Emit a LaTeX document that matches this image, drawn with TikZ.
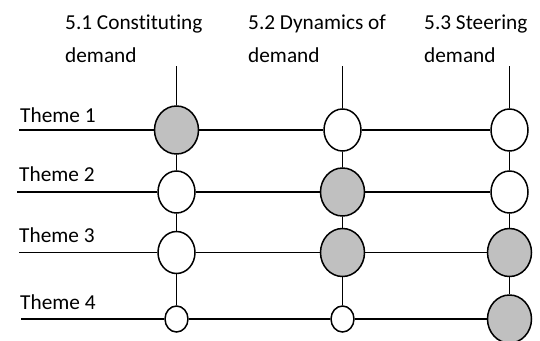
\documentclass[tikz,border=0pt]{standalone}
\usepackage{fontspec}
\setmainfont{Carlito}[Ligatures=NoCommon]
\usetikzlibrary{shapes.geometric}
\definecolor{cellgray}{RGB}{192,192,192}
\begin{document}
\begin{tikzpicture}[x=1pt,y=-1pt,
  link/.style={line width=1.5pt},
  hub/.style={ellipse, draw, line width=1.5pt, inner sep=0pt, fill=white,
              minimum width=37pt, minimum height=42pt},
  hot/.style={hub, fill=cellgray, minimum width=44pt, minimum height=48pt},
  tiny/.style={hub, minimum width=23pt, minimum height=26pt},
  theme/.style={anchor=base west, inner sep=0pt, font=\fontsize{21.3pt}{24pt}\selectfont},
  coltitle/.style={anchor=north west, inner sep=0pt, align=left,
                   font=\fontsize{21.3pt}{33pt}\selectfont}]
\useasboundingbox (0,0) rectangle (540,340);

% column headings
\node[coltitle] (h1) at (65,15)  {5.1 Constituting\\demand};
\node[coltitle] (h2) at (248,15) {5.2 Dynamics of\\demand};
\node[coltitle] (h3) at (424,15) {5.3 Steering\\demand};

% theme labels
\node[theme] (l1) at (20,122) {Theme 1};
\node[theme] (l2) at (19,181) {Theme 2};
\node[theme] (l3) at (19,242) {Theme 3};
\node[theme] (l4) at (20,309) {Theme 4};

% grid crossings
\node[hot]  (n11) at (176.5,130) {};
\node[hub]  (n12) at (342.5,130) {};
\node[hub]  (n13) at (509.5,130) {};
\node[hub]  (n21) at (176.5,192) {};
\node[hot]  (n22) at (342.5,192) {};
\node[hub]  (n23) at (509.5,192) {};
\node[hub]  (n31) at (176.5,252.5) {};
\node[hot]  (n32) at (342.5,252.5) {};
\node[hot]  (n33) at (509.5,252.5) {};
\node[tiny] (n41) at (176.5,319) {};
\node[tiny] (n42) at (342.5,319) {};
\node[hot]  (n43) at (509.5,319) {};

% free ends of the lines
\coordinate (t1) at (176.5,66);
\coordinate (t2) at (342.5,66);
\coordinate (t3) at (509.5,66);
\coordinate (s1) at (19,130);
\coordinate (s2) at (17,192);
\coordinate (s3) at (19,252.5);
\coordinate (s4) at (21,319);

% columns
\draw[link] (t1) -- (n11) -- (n21) -- (n31) -- (n41);
\draw[link] (t2) -- (n12) -- (n22) -- (n32) -- (n42);
\draw[link] (t3) -- (n13) -- (n23) -- (n33) -- (n43);

% rows
\draw[link] (s1) -- (n11) -- (n12) -- (n13);
\draw[link] (s2) -- (n21) -- (n22) -- (n23);
\draw[link] (s3) -- (n31) -- (n32) -- (n33);
\draw[link] (s4) -- (n41) -- (n42) -- (n43);
\end{tikzpicture}
\end{document}
